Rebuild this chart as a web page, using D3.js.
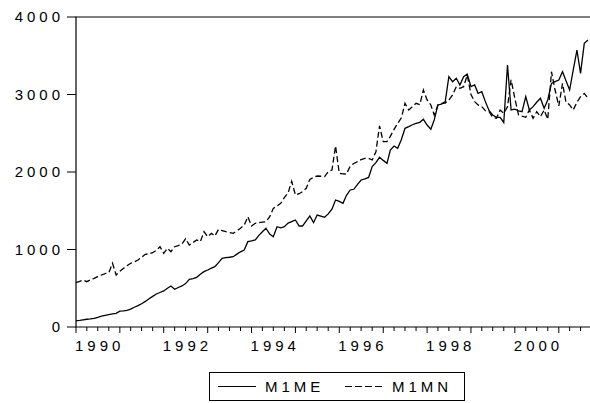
<!DOCTYPE html>
<html>
<head>
<meta charset="utf-8">
<script src="https://cdn.jsdelivr.net/npm/d3@7/dist/d3.min.js"></script>
<style>
  body { margin: 0; background: #fff; }
  text { font-family: Arial, "Liberation Sans", sans-serif; font-size: 15px; letter-spacing: 4px; fill: #000; }
</style>
</head>
<body>
<div id="chart"></div>
<script>
// monthly series, 1990:01 .. 2001:09
var startMonth = new Date(1990, 0, 1);

var m1me = [
  80, 85, 92, 100, 105, 112, 125, 140, 150, 160, 170, 177,
  205, 208, 215, 230, 255, 275, 300, 330, 365, 395, 426, 445,
  465, 500, 529, 486, 510, 530, 560, 615, 625, 641, 680, 714,
  735, 760, 778, 830, 886, 895, 900, 907, 940, 970, 994, 1101,
  1110, 1123, 1180, 1230, 1274, 1200, 1165, 1294, 1280, 1294, 1340, 1360,
  1381, 1303, 1303, 1370, 1432, 1346, 1445, 1430, 1415, 1460, 1520, 1639,
  1620, 1596, 1700, 1768, 1777, 1840, 1897, 1910, 1930, 2069, 2120, 2190,
  2150, 2112, 2284, 2335, 2306, 2420, 2564, 2585, 2610, 2628, 2641, 2680,
  2606, 2551, 2671, 2865, 2877, 2908, 3230, 3165, 3209, 3123, 3230, 3265,
  3101, 3123, 3015, 3036, 2908, 2790, 2735, 2706, 2706, 2637, 3381, 2800,
  2810, 2790, 2778, 2972, 2800, 2843, 2900, 2951, 2822, 2929, 3144, 3165,
  3187, 3294, 3180, 3058, 3316, 3574, 3273, 3660, 3703
];

var m1mn = [
  572, 590, 606, 585, 610, 628, 650, 671, 690, 701, 822, 671,
  720, 757, 790, 822, 840, 865, 900, 938, 945, 959, 990, 1036,
  951, 1015, 972, 1036, 1050, 1071, 1140, 1058, 1090, 1123, 1101, 1230,
  1165, 1209, 1173, 1260, 1245, 1230, 1220, 1209, 1240, 1274, 1316, 1423,
  1303, 1338, 1345, 1352, 1359, 1423, 1531, 1560, 1596, 1670, 1730, 1880,
  1703, 1720, 1746, 1789, 1905, 1930, 1948, 1945, 1940, 2004, 2026, 2335,
  1983, 1975, 1974, 2077, 2110, 2133, 2160, 2177, 2177, 2155, 2262, 2594,
  2391, 2391, 2460, 2550, 2628, 2700, 2886, 2800, 2843, 2886, 2870, 3058,
  2929, 2865, 2735, 2865, 2886, 2890, 2929, 2994, 3101, 3080, 3101, 3252,
  3000, 2908, 2865, 2843, 2790, 2778, 2706, 2693, 2800, 2757, 2843, 3190,
  2950, 2735, 2720, 2706, 2800, 2693, 2778, 2714, 2800, 2680, 3294, 3058,
  2852, 3144, 2908, 2865, 2800, 2900, 2972, 3015, 2950, 3015, 3015
];

var yTicks = [0, 1000, 2000, 3000, 4000];
var xLabels = [1990, 1992, 1994, 1996, 1998, 2000];
var seriesNames = ["M1ME", "M1MN"];

var width = 590, height = 403;
var plot = { left: 76, right: 588, top: 17, bottom: 327 };

var months = m1me.map((d, i) => d3.timeMonth.offset(startMonth, i));

var x = d3.scaleTime()
    .domain([months[0], months[months.length - 1]])
    .range([plot.left, plot.right]);

var y = d3.scaleLinear()
    .domain([0, 4000])
    .range([plot.bottom, plot.top]);

var svg = d3.select("#chart").append("svg")
    .attr("width", width)
    .attr("height", height);

// frame: left, top, bottom
svg.append("path")
    .attr("d", "M" + 590 + "," + plot.top + "H" + plot.left + "V" + plot.bottom + "H" + 590)
    .attr("fill", "none")
    .attr("stroke", "#000")
    .attr("stroke-width", 1.2);

// y axis ticks + labels
svg.selectAll(".ytick")
    .data(yTicks)
    .enter().append("line")
    .attr("x1", plot.left - 9).attr("x2", plot.left)
    .attr("y1", d => y(d)).attr("y2", d => y(d))
    .attr("stroke", "#000");

svg.selectAll(".ylab")
    .data(yTicks)
    .enter().append("text")
    .attr("x", 64)
    .attr("y", d => y(d) + 5)
    .attr("text-anchor", "end")
    .text(d => d);

// x axis: quarterly minor ticks, yearly major ticks
var quarters = d3.timeMonth.every(3).range(months[0], d3.timeMonth.offset(months[months.length - 1], 1));
svg.selectAll(".xtick")
    .data(quarters)
    .enter().append("line")
    .attr("x1", d => x(d)).attr("x2", d => x(d))
    .attr("y1", plot.bottom)
    .attr("y2", d => plot.bottom + (d.getMonth() == 0 ? 6 : 4))
    .attr("stroke", "#000");

svg.selectAll(".xlab")
    .data(xLabels)
    .enter().append("text")
    .attr("x", d => x(new Date(d, 0, 1)) - 1)
    .attr("y", 351)
    .text(d => d);

// series
var line = d3.line()
    .x((d, i) => x(months[i]))
    .y(d => y(d));

svg.append("path")
    .datum(m1me)
    .attr("d", line)
    .attr("fill", "none")
    .attr("stroke", "#000")
    .attr("stroke-width", 1.3);

svg.append("path")
    .datum(m1mn)
    .attr("d", line)
    .attr("fill", "none")
    .attr("stroke", "#000")
    .attr("stroke-width", 1.3)
    .attr("stroke-dasharray", "6,3");

// legend
var legend = svg.append("g");
legend.append("rect")
    .attr("x", 209.5).attr("y", 372.5)
    .attr("width", 255).attr("height", 28)
    .attr("fill", "none")
    .attr("stroke", "#000");

legend.append("line")
    .attr("x1", 218).attr("x2", 256)
    .attr("y1", 386.5).attr("y2", 386.5)
    .attr("stroke", "#000");
legend.append("text")
    .attr("x", 265).attr("y", 392)
    .text(seriesNames[0]);

legend.append("line")
    .attr("x1", 345).attr("x2", 384)
    .attr("y1", 386.5).attr("y2", 386.5)
    .attr("stroke", "#000")
    .attr("stroke-dasharray", "7,3");
legend.append("text")
    .attr("x", 392).attr("y", 392)
    .text(seriesNames[1]);
</script>
</body>
</html>
